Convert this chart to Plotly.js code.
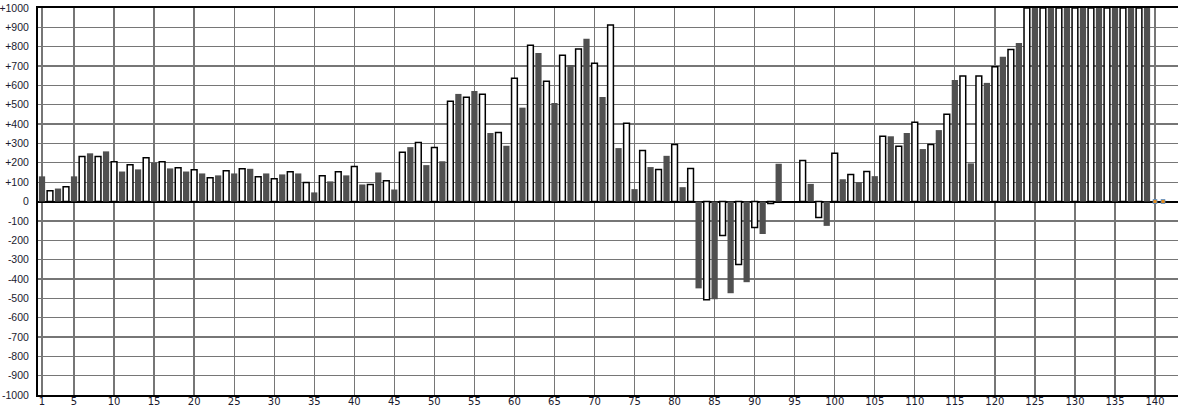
<!DOCTYPE html>
<html>
<head>
<meta charset="utf-8">
<script src="https://cdn.plot.ly/plotly-3.0.1.min.js"></script>
<style>html,body{margin:0;padding:0;background:#fff;}#chart{width:1178px;height:406px;}</style>
</head>
<body>
<div id="chart"></div>
<script>
// Values for x = 1 .. 139 (bars clipped at +1000 are shown as 1000)
const values = [
  130, 55, 67, 76, 130, 232, 249, 232, 259, 206,
  155, 190, 166, 226, 202, 206, 171, 175, 155, 164,
  145, 123, 135, 159, 145, 169, 169, 128, 145, 117,
  140, 154, 145, 98, 47, 133, 104, 154, 135, 181,
  88, 88, 150, 107, 62, 254, 281, 305, 188, 279,
  208, 518, 556, 539, 571, 554, 354, 357, 288, 637,
  485, 808, 768, 622, 509, 756, 706, 788, 841, 715,
  540, 912, 276, 404, 64, 264, 178, 166, 236, 295,
  74, 171, -449, -508, -505, -176, -474, -326, -417, -135,
  -168, -10, 195, null, null, 212, 91, -83, -126, 249,
  115, 140, 100, 155, 131, 337, 337, 285, 354, 409,
  271, 294, 369, 451, 628, 648, 197, 648, 613, 696,
  748, 786, 819, 1000, 1000, 1000, 1000, 1000, 1000, 1000,
  1000, 1000, 1000, 1000, 1000, 1000, 1000, 1000, 1000
];
// Points with no bar drawn, shown as small markers on the zero line
const markerX = [140, 141];
const markerY = [0, 0];

const xTicks = [1, 5, 10, 15, 20, 25, 30, 35, 40, 45, 50, 55, 60, 65, 70, 75, 80, 85, 90, 95, 100, 105, 110, 115, 120, 125, 130, 135, 140];
const yTicks = [];
const yTickText = [];
for (let v = -1000; v <= 1000; v += 100) {
  yTicks.push(v);
  yTickText.push(v > 0 ? '+' + v : String(v));
}

const darkX = [], darkY = [], whiteX = [], whiteY = [];
values.forEach((v, i) => {
  const x = i + 1;
  if (x % 2 === 1) { darkX.push(x); darkY.push(v); }
  else { whiteX.push(x); whiteY.push(v); }
});

const traces = [
  {
    type: 'bar', x: darkX, y: darkY, width: 0.78,
    marker: { color: '#505050', line: { width: 0 } },
    hoverinfo: 'x+y'
  },
  {
    type: 'bar', x: whiteX, y: whiteY, width: 0.72,
    marker: { color: '#ffffff', line: { color: '#000000', width: 1.5 } },
    hoverinfo: 'x+y'
  },
  {
    type: 'scatter', mode: 'markers', x: markerX, y: markerY,
    marker: { symbol: 'square', size: 4, color: '#e08a1e', line: { color: '#5a8fc8', width: 0.8 } },
    cliponaxis: false, hoverinfo: 'x+y'
  }
];

const layout = {
  width: 1178, height: 406,
  margin: { l: 38, r: 0, t: 8, b: 11, pad: 0 },
  paper_bgcolor: '#ffffff', plot_bgcolor: '#ffffff',
  showlegend: false,
  barmode: 'overlay',
  font: { family: 'DejaVu Sans, Verdana, sans-serif', size: 10, color: '#1a1a2e' },
  xaxis: {
    range: [0.5, 142.87],
    tickmode: 'array', tickvals: xTicks, ticktext: xTicks.map(String),
    showgrid: true, gridcolor: '#767676', gridwidth: 1.3,
    zeroline: false,
    showline: true, linecolor: '#000000', linewidth: 2, mirror: true,
    ticks: '', ticklabelstandoff: -4,
    tickfont: { family: 'DejaVu Sans, Verdana, sans-serif', size: 10, color: '#1a1a2e' }
  },
  yaxis: {
    range: [-1000, 1000],
    tickmode: 'array', tickvals: yTicks, ticktext: yTickText,
    showgrid: true, gridcolor: '#767676', gridwidth: 1.3,
    zeroline: true, zerolinecolor: '#000000', zerolinewidth: 2,
    showline: true, linecolor: '#000000', linewidth: 2,
    ticks: '', ticklabelstandoff: 5,
    tickfont: { family: 'Liberation Sans, Arial, sans-serif', size: 10.5, color: '#1a1a2e' }
  }
};

Plotly.newPlot('chart', traces, layout, { displayModeBar: false, staticPlot: true });
</script>
</body>
</html>
